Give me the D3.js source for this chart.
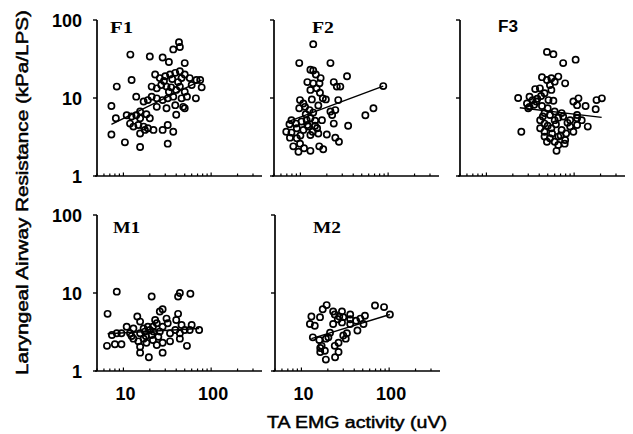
<!DOCTYPE html>
<html><head><meta charset="utf-8">
<script src="https://cdn.jsdelivr.net/npm/d3@7"></script>
<style>body{margin:0;background:#fff}</style>
</head><body><svg id="c" width="633" height="434"></svg>
<script>
// ---------- data ----------
const panelNames = ["F1", "F2", "F3", "M1", "M2"];
const yTickValues = [1, 10, 100];
const yTickLabels = ["1", "10", "100"];
const xTickValues = [10, 100];
const xTickLabels = ["10", "100"];
const xMinorTicks = [5,6,7,8,9,10,20,30,40,50,60,70,80,90,100,200,300];
const xDomain = [5, 380];
const yDomain = [1, 100];
const yTitle = "Laryngeal Airway Resistance (kPa/LPS)";
const xTitle = "TA EMG activity (uV)";

const F1 = [[12,36],[20,34],[28,33],[43,52],[44,45],[37,42],[33,29],[50,28],
  [8.4,14],[12.4,17],[23,20],[26,18],[30,19],[34,20],[39,21],[44,22],[50,20],[57,18],[68,17],[75,17],[60,14.7],[78,13.7],
  [21,14],[24,13.3],[27,14.7],[31,14],[35,13.7],[40,12.7],[44,14],[50,12],
  [7.3,7.9],[8.2,5.5],[14,10.4],[17,9],[19,9.4],[21,10.4],[24,9.9],[28,9.4],[32,9.9],[37,10.4],[46,9.9],[53,10.4],[67,9.9],
  [24,7.7],[31,7.4],[39,8.1],[48,7.7],[40,6.1],[50,7.4],
  [10.9,6],[12.4,5.8],[14,6],[15.5,5.5],[18.3,6.2],[20,5.5],[15.5,6.7],
  [11.9,4.7],[13,4.3],[14.8,4.5],[17,4.3],[19,4.1],[22,3.9],
  [7.3,3.4],[10.4,2.7],[15.5,2.35],[28,3.9],[32,4.5],[37,3.7],[32,2.6],[15.5,3.5],[17.6,3.9],
  [29,16.5],[36,17.5],[42,16],[33,12],[46,18]];
const F2 = [[14,49],[9.7,28],[22,28],[13,23],[14,22.5],[15,20],[17,18],[34,19],[12,16],[14,15.4],[16.5,15.4],[24,16],[26,14],[28.5,14],
  [13,12.7],[15.3,13.3],[16.7,11.7],[18,9.9],[19.5,9.6],[9.9,9.4],[10.8,8.5],[13.5,9.6],[27,9.4],[9.7,7.4],[11.3,7.7],[12.7,7],
  [22,6.7],[25,7],[23,6.05],[55,6],[68,7.4],[88,14.2],[7.9,5.2],[7.5,4.6],[8.9,4.7],[10.3,5],[11.8,5.2],[13,5.5],[14.7,5.1],[17.6,5.2],
  [24,4.7],[35,4.4],[6.9,3.7],[7.9,3.6],[9.1,4.1],[10.8,3.9],[12.3,4.3],[13.8,3.7],[16,3.5],[7.6,3.1],[9.1,3.05],[13,3.35],[20,3.4],
  [25,3.1],[27.5,2.75],[8.3,2.4],[9.9,2.6],[11,2.27],[9.5,2.05],[13,2.1],[16.4,2.4],[18.2,2.2],[14.7,4.4],[15.5,4.1],
  [11.5,6.2],[14,6.5],[16,8],[12,4.5],[10,3.3]];
const F3 = [[49,39],[58,36.5],[75,28],[104,31],[43,18.5],[49,17],[55,17.9],[60,16.2],[66,18.8],[79,15.4],[53,14.7],[55,12.7],[36,13],[40.7,13.3],
  [23,10],[31,10.4],[33.6,9.4],[30,7.4],[37,9],[43,7.9],[51,9.4],[58,9.2],[98,9],[112,9.9],[108,8.1],[135,7.9],[176,7.2],[180,9.4],[207,9.9],
  [25,3.7],[46,6.4],[53,6.05],[60,6.7],[75,5.8],[41,5.2],[46,4.7],[60,5.2],[90,5.2],[108,5.5],[122,5.2],[143,4.3],[90,4.3],[108,4.5],
  [41,4.1],[46,3.7],[55,4.1],[72,3.9],[81,3.5],[98,3.7],[46,3.2],[53,3.05],[66,3.2],[79,2.9],[60,2.75],[66,2.5],[78,2.6],[63,2.1],[49,2.75],
  [31,7.7],[29,8.5],[50,7.4],[72,6.4],[108,6.05],[46,11.5],
  [50,4.4],[56,3.5],[62,4.6],[70,3.3],[44,5.8],[38,9.8],[42,10.6],[35,8.2],[66,5.6],[84,4.8]];
const M1 = [[8.4,10.4],[21,9],[42,9],[44,10],[58,9.8],[6.6,5.4],[14.4,5],[26,5.8],[28,6.2],[42,5.4],[40,4.5],[46,3.9],[31,4.7],[23,4.5],[15.5,4.3],
  [10.9,3.7],[60,3.9],[73,3.35],[57,3.35],[7.4,2.9],[8.4,3.05],[9.5,3.05],[11.9,3.05],[13,3.5],[15.5,3.05],[17.6,3.2],[20,3.35],[21.7,3.7],
  [26,3.2],[28,3.7],[34,3.05],[39,3.35],[44,3.05],[50,3.35],[6.5,2.1],[8,2.2],[9.5,2.2],[13,2.6],[14.8,2.4],[17,2.6],[18.3,2.3],[21.7,2.5],
  [24,2.15],[28,2.3],[34,2.4],[15.5,2.05],[15.5,1.72],[19.5,1.5],[28,1.72],[53,2.1],[44,2.6],[12.4,2.8],[17,3.5],[19,3.7],[24,4.1],[32,4.1],
  [25,2.75],[21,2.9],[18,2.8],[22,3.2]];
const M2 = [[19.4,7],[17.5,6.2],[69,6.9],[87.5,6.6],[102,5.3],[13,5],[16.3,4.9],[24,5.3],[29,5.8],[26,4.6],[30,4.9],[36,4.6],[42,4.4],[53,5.1],
  [12.5,4],[14.2,3.8],[23,4],[29,4.2],[36,4],[51,4],[43.5,3.3],[13.5,2.7],[16,2.5],[21.2,3.1],[20.3,2.7],[19,2.6],[30,2.85],[33,3.05],
  [32,2.6],[26.5,2.3],[24,2.1],[17,2.1],[16.4,1.97],[18.5,1.82],[16.4,1.75],[26.5,1.75],[24.2,1.5],[19,1.4],[23,5.8],[27,5],[36,5.3],[47,4.7]];

const fitF1 = [[7.3,4.6],[78,17]];
const fitF2 = [[7,4.9],[88,14.2]];
const fitF3 = [[24,7.5],[206,5.65]];
const fitM1 = [[6.6,3.0],[73,3.5]];
const fitM2 = [[13,2.6],[102,5.3]];

const panelData = [F1, F2, F3, M1, M2];
const panelFits = [fitF1, fitF2, fitF3, fitM1, fitM2];

// ---------- layout (positions only) ----------
const W = 165;
const layout = [
  {x0: 97,  top: 20,  bottom: 176, lx: 13, ly: 33,  lw: 23, serif: true,  yLab: true,  xLab: false},
  {x0: 274, top: 20,  bottom: 176, lx: 38, ly: 33,  lw: 22, serif: true,  yLab: false, xLab: false},
  {x0: 460, top: 20,  bottom: 176, lx: 38, ly: 32,  lw: 20, serif: false, yLab: false, xLab: false},
  {x0: 97,  top: 215, bottom: 371, lx: 16, ly: 233, lw: 27, serif: true,  yLab: true,  xLab: true},
  {x0: 275, top: 215, bottom: 371, lx: 38, ly: 233, lw: 28, serif: true,  yLab: false, xLab: true}
];

const svg = d3.select("#c");
const sans = "'Liberation Sans', Arial, sans-serif";
const serif = "'Liberation Serif', 'Times New Roman', serif";

panelNames.forEach((name, i) => {
  const L = layout[i];
  const x = d3.scaleLog().domain(xDomain).range([L.x0, L.x0 + W]);
  const y = d3.scaleLog().domain(yDomain).range([L.bottom, L.top]);
  const g = svg.append("g");

  // y axis
  g.append("line").attr("x1", L.x0).attr("x2", L.x0).attr("y1", y(100)).attr("y2", y(1))
    .attr("stroke", "#000").attr("stroke-width", 1.7);
  g.selectAll(".yt").data(yTickValues).enter().append("line")
    .attr("x1", L.x0 - 4).attr("x2", L.x0).attr("y1", d => y(d)).attr("y2", d => y(d))
    .attr("stroke", "#000").attr("stroke-width", 1.4);
  // x axis
  g.append("line").attr("x1", L.x0 - 2).attr("x2", L.x0 + W).attr("y1", y(1)).attr("y2", y(1))
    .attr("stroke", "#000").attr("stroke-width", 1.7);
  g.selectAll(".xt").data(xMinorTicks).enter().append("line")
    .attr("x1", d => x(d)).attr("x2", d => x(d))
    .attr("y1", y(1)).attr("y2", d => y(1) - (xTickValues.includes(d) ? 3.5 : 2.5))
    .attr("stroke", "#000").attr("stroke-width", 1.2);

  if (L.yLab) {
    g.selectAll(".yl").data(yTickValues).enter().append("text")
      .attr("x", 82).attr("y", d => y(d) + 6.5)
      .attr("text-anchor", "end").attr("font-family", sans).attr("font-weight", "bold")
      .attr("font-size", 18).text((d, j) => yTickLabels[j]);
  }
  if (L.xLab) {
    g.selectAll(".xl").data(xTickValues).enter().append("text")
      .attr("x", d => x(d) + 2).attr("y", L.bottom + 29)
      .attr("text-anchor", "middle").attr("font-family", sans).attr("font-weight", "bold")
      .attr("font-size", 18).text((d, j) => xTickLabels[j]);
  }

  // panel label
  g.append("text").attr("x", L.x0 + L.lx).attr("y", L.ly)
    .attr("font-family", L.serif ? serif : sans).attr("font-weight", "bold")
    .attr("font-size", 16).attr("textLength", L.lw).attr("lengthAdjust", "spacingAndGlyphs")
    .text(name);

  // regression line
  const line = d3.line().x(d => x(d[0])).y(d => y(d[1]));
  g.append("path").attr("d", line(panelFits[i])).attr("fill", "none")
    .attr("stroke", "#000").attr("stroke-width", 1.4);

  // points
  g.selectAll(".pt").data(panelData[i]).enter().append("circle")
    .attr("cx", d => x(d[0])).attr("cy", d => y(d[1])).attr("r", 3.1)
    .attr("fill", "none").attr("stroke", "#000").attr("stroke-width", 1.7);
});

// axis titles
svg.append("text").attr("transform", "translate(28,192.5) rotate(-90)")
  .attr("text-anchor", "middle").attr("font-family", sans).attr("font-size", 17)
  .attr("textLength", 365).attr("lengthAdjust", "spacingAndGlyphs")
  .attr("stroke", "#000").attr("stroke-width", 0.5)
  .text(yTitle);
svg.append("text").attr("x", 357).attr("y", 428)
  .attr("text-anchor", "middle").attr("font-family", sans).attr("font-size", 17)
  .attr("textLength", 180).attr("lengthAdjust", "spacingAndGlyphs")
  .attr("stroke", "#000").attr("stroke-width", 0.5)
  .text(xTitle);
</script></body></html>
